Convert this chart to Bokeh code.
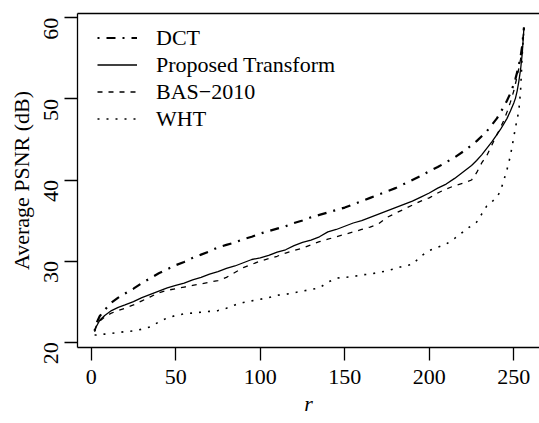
import math
from bokeh.plotting import figure
from bokeh.models import Range1d, LinearAxis, FixedTicker, Legend, LegendItem
from bokeh.embed import file_html
from bokeh.resources import INLINE

# ---- data ----
r = [2, 3, 5, 8, 12, 16, 20, 25, 30, 35, 40, 45, 50, 55, 60, 65, 70, 75, 80, 85,
     90, 95, 100, 105, 110, 115, 120, 125, 130, 135, 140, 145, 150, 155, 160, 165,
     170, 175, 180, 185, 190, 195, 200, 205, 210, 215, 220, 225, 228, 231, 234,
     237, 240, 242, 244, 246, 248, 250, 251, 252, 253, 254, 255, 256]

dct = [21.4, 22.3, 23.2, 24.0, 24.9, 25.5, 26.0, 26.6, 27.3, 27.9, 28.5, 29.0,
       29.5, 29.9, 30.4, 30.8, 31.2, 31.7, 32.0, 32.3, 32.7, 33.0, 33.4, 33.7,
       34.0, 34.3, 34.7, 35.0, 35.4, 35.7, 36.0, 36.3, 36.6, 37.0, 37.4, 37.8,
       38.2, 38.6, 39.0, 39.5, 40.0, 40.5, 41.1, 41.6, 42.2, 42.8, 43.5, 44.3,
       44.8, 45.4, 46.0, 46.8, 47.6, 48.3, 49.0, 49.8, 50.7, 51.8, 52.5, 53.3,
       54.2, 55.2, 56.6, 58.8]

proposed = [21.3, 21.9, 22.7, 23.3, 23.9, 24.3, 24.6, 25.0, 25.5, 25.9, 26.3,
            26.7, 27.0, 27.3, 27.7, 28.0, 28.4, 28.7, 29.1, 29.4, 29.8, 30.2,
            30.4, 30.7, 31.1, 31.4, 31.9, 32.3, 32.6, 33.0, 33.6, 33.9, 34.3,
            34.7, 35.0, 35.4, 35.8, 36.2, 36.6, 37.0, 37.4, 37.9, 38.4, 39.0,
            39.5, 40.2, 41.0, 41.8, 42.4, 43.1, 43.9, 44.7, 45.6, 46.2, 46.9,
            47.6, 48.5, 49.5, 50.1, 51.0, 52.2, 53.6, 55.6, 58.8]

bas2010 = [21.5, 22.0, 22.6, 23.1, 23.6, 23.9, 24.2, 24.6, 25.1, 25.6, 26.1,
           26.4, 26.6, 26.8, 27.0, 27.2, 27.4, 27.6, 28.0, 28.6, 29.2, 29.6,
           30.0, 30.3, 30.6, 31.0, 31.3, 31.6, 32.0, 32.4, 32.7, 33.0, 33.3,
           33.6, 33.9, 34.2, 34.6, 35.4, 35.9, 36.4, 36.9, 37.4, 37.8, 38.4,
           38.9, 39.3, 39.6, 40.0, 40.9, 42.1, 43.0, 44.3, 45.6, 46.4, 47.3,
           48.4, 49.6, 51.0, 51.9, 52.8, 53.8, 54.9, 56.3, 58.8]

wht = [20.9, 20.9, 21.0, 21.0, 21.1, 21.2, 21.3, 21.4, 21.6, 21.9, 22.5, 23.0,
       23.3, 23.5, 23.6, 23.7, 23.8, 23.9, 24.2, 24.6, 24.9, 25.1, 25.3, 25.5,
       25.8, 25.9, 26.1, 26.3, 26.5, 26.7, 27.4, 27.9, 28.0, 28.1, 28.3, 28.4,
       28.6, 28.8, 29.1, 29.4, 29.6, 30.6, 31.3, 31.7, 32.1, 32.8, 33.6, 34.4,
       34.8, 35.8, 36.8, 37.3, 37.9, 38.6, 39.9, 41.3, 43.0, 45.3, 46.5, 47.5,
       48.6, 51.0, 55.5, 58.8]

x_ticks = [0, 50, 100, 150, 200, 250]
y_ticks = [20, 30, 40, 50, 60]
series_labels = ["DCT", "Proposed Transform", "BAS\u22122010", "WHT"]

FONT = "Liberation Serif"
FS = "22px"

p = figure(width=539, height=423, output_backend="svg", toolbar_location=None,
           x_range=Range1d(-8.1, 265.2), y_range=Range1d(19.35, 60.53),
           min_border_left=77, min_border_right=0, min_border_top=13,
           min_border_bottom=76)
p.outline_line_color = None
p.background_fill_color = "white"
p.border_fill_color = "white"
p.xgrid.visible = False
p.ygrid.visible = False

for ax in (p.xaxis[0], p.yaxis[0]):
    ax.axis_line_color = "black"
    ax.axis_line_width = 1.3
    ax.major_tick_line_color = "black"
    ax.major_tick_line_width = 1.3
    ax.major_tick_out = 13
    ax.major_tick_in = 0
    ax.minor_tick_out = 0
    ax.minor_tick_in = 0
    ax.major_label_text_font = FONT
    ax.major_label_text_font_size = FS
    ax.major_label_text_color = "black"
    ax.axis_label_text_font = FONT
    ax.axis_label_text_font_size = FS
    ax.axis_label_text_color = "black"

p.xaxis.ticker = FixedTicker(ticks=x_ticks)
p.yaxis.ticker = FixedTicker(ticks=y_ticks)
p.yaxis.major_label_orientation = math.pi / 2
p.xaxis.major_label_standoff = 9
p.yaxis.major_label_standoff = 13
p.xaxis.axis_label = "r"
p.xaxis.axis_label_text_font_style = "italic"
p.xaxis.axis_label_standoff = 4
p.yaxis.axis_label = "Average PSNR (dB)"
p.yaxis.axis_label_text_font_style = "normal"
p.yaxis.axis_label_standoff = 1

top = LinearAxis(ticker=FixedTicker(ticks=[]), major_tick_out=0, major_tick_in=0,
                 minor_tick_out=0, minor_tick_in=0,
                 major_label_text_font_size="0px",
                 axis_line_color="black", axis_line_width=1.3)
p.add_layout(top, "above")

l_dct = p.line(r, dct, line_color="black", line_width=2.2, line_dash="2 7 9 7")
l_prop = p.line(r, proposed, line_color="black", line_width=1.3)
l_bas = p.line(r, bas2010, line_color="black", line_width=1.3, line_dash="5 6")
l_wht = p.line(r, wht, line_color="black", line_width=1.6, line_dash="2 7")

legend = Legend(items=[LegendItem(label=series_labels[0], renderers=[l_dct]),
                       LegendItem(label=series_labels[1], renderers=[l_prop]),
                       LegendItem(label=series_labels[2], renderers=[l_bas]),
                       LegendItem(label=series_labels[3], renderers=[l_wht])],
                location=(20, 215), glyph_width=40, glyph_height=27,
                label_height=27, spacing=0, padding=0, margin=0,
                label_standoff=19, border_line_color=None,
                background_fill_alpha=0, label_text_font=FONT,
                label_text_font_size=FS, label_text_color="black")
p.add_layout(legend)

open("out.html", "w").write(file_html(p, INLINE))
